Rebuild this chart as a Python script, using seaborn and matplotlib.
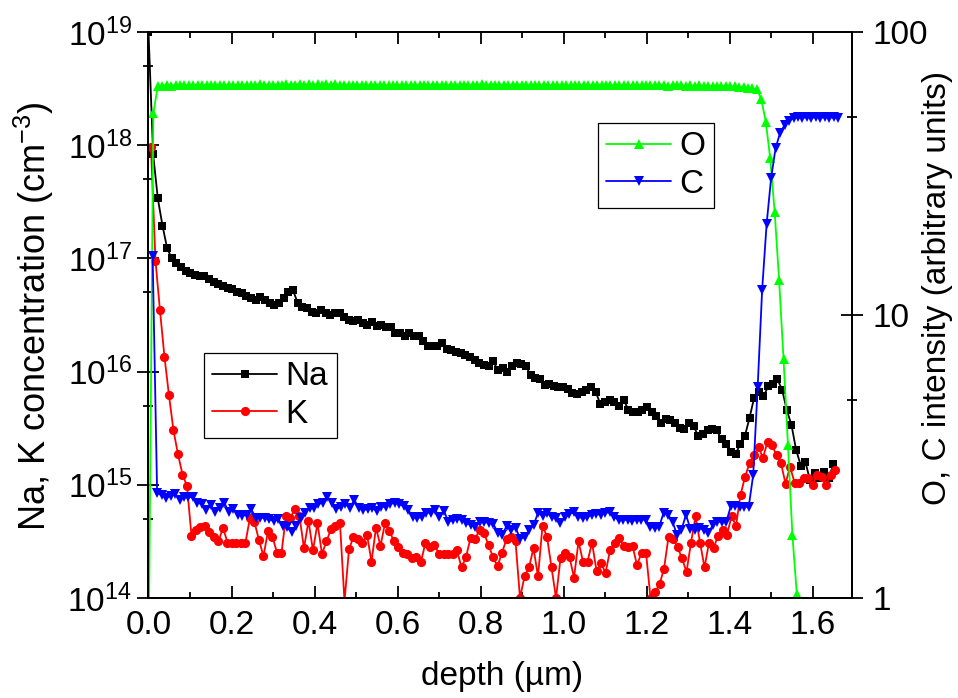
import numpy as np
import pandas as pd
import matplotlib
matplotlib.use("Agg")
import matplotlib.pyplot as plt
import seaborn as sns
from matplotlib.ticker import FixedLocator, FixedFormatter, NullFormatter, MultipleLocator

# ---------------- data ----------------
# Na concentration, log10(cm^-3)
na_log10 = [
    19.0, 17.92, 17.53, 17.29, 17.09, 17.0, 16.96, 16.92, 16.89, 16.87,
    16.85, 16.84, 16.84, 16.82, 16.79, 16.77, 16.76, 16.74, 16.73, 16.70,
    16.69, 16.67, 16.65, 16.63, 16.66, 16.63, 16.61, 16.59, 16.61, 16.65,
    16.70, 16.72, 16.61, 16.57, 16.56, 16.53, 16.52, 16.54, 16.52, 16.50,
    16.52, 16.52, 16.48, 16.46, 16.45, 16.46, 16.43, 16.41, 16.44, 16.40,
    16.41, 16.39, 16.39, 16.34, 16.34, 16.31, 16.34, 16.31, 16.31, 16.27,
    16.23, 16.23, 16.23, 16.25, 16.20, 16.19, 16.17, 16.16, 16.15, 16.13,
    16.10, 16.08, 16.06, 16.05, 16.09, 16.01, 16.03, 16.00, 16.05, 16.08,
    16.07, 16.05, 15.97, 15.94, 15.93, 15.88, 15.89, 15.87, 15.86, 15.86,
    15.85, 15.81, 15.80, 15.82, 15.84, 15.86, 15.82, 15.71, 15.73, 15.75,
    15.73, 15.70, 15.75, 15.66, 15.64, 15.64, 15.66, 15.69, 15.64, 15.61,
    15.55, 15.58, 15.57, 15.55, 15.50, 15.49, 15.55, 15.52, 15.43, 15.45,
    15.48, 15.49, 15.48, 15.40, 15.36, 15.29, 15.27, 15.36, 15.43, 15.59,
    15.77, 15.82, 15.78, 15.87, 15.89, 15.93, 15.84, 15.66, 15.53, 15.31,
    15.17, 15.20, 15.04, 15.10, 15.06, 15.11, 15.06, 15.18,
]
na_depth_range = (0.0, 1.650)

# K concentration, log10(cm^-3)
k_log10 = [
    17.98, 16.98, 16.54, 16.13, 15.79, 15.48, 15.27, 15.09, 14.99, 14.55,
    14.60, 14.63, 14.64, 14.58, 14.54, 14.50, 14.62, 14.49, 14.49, 14.49,
    14.49, 14.49, 14.71, 14.67, 14.51, 14.37, 14.59, 14.54, 14.40, 14.40,
    14.72, 14.71, 14.79, 14.72, 14.44, 14.68, 14.42, 14.66, 14.39, 14.50,
    14.61, 14.64, 14.66, 13.97, 14.43, 14.54, 14.52, 14.49, 14.56, 14.32,
    14.62, 14.46, 14.66, 14.59, 14.50, 14.45, 14.40, 14.39, 14.35, 14.36,
    14.32, 14.49, 14.45, 14.47, 14.39, 14.39, 14.39, 14.39, 14.42,
    14.27, 14.36, 14.53, 14.52, 14.60, 14.57, 14.47, 14.36, 14.28, 14.40,
    14.52, 14.54, 14.50, 14.00, 14.19, 14.27, 14.44, 14.19, 14.64, 14.54,
    14.27, 14.00, 14.35, 14.40, 14.36, 14.18, 14.50, 14.32, 14.32, 14.49,
    14.24, 14.31, 14.22, 14.42, 14.49, 14.53, 14.46, 14.45, 14.46, 14.29,
    14.40, 14.40, 14.00, 14.05, 14.12, 14.26, 14.54, 14.52, 14.45, 14.35,
    14.23, 14.49, 14.72, 14.49, 14.27, 14.49, 14.44, 14.55, 14.60, 14.56,
    14.72, 14.64, 14.91, 15.07, 15.19, 15.26, 15.33, 15.24, 15.38, 15.35,
    15.26, 15.19, 15.01, 15.16, 15.02, 15.02, 15.06, 15.06, 15.00, 15.09,
    15.07, 15.00, 15.09, 15.13,
]
k_depth_range = (0.006, 1.654)

# C intensity (arbitrary units, right axis)
c_intensity = [
    16.2,
    2.35, 2.31, 2.26, 2.29, 2.33, 2.22, 2.27, 2.27, 2.27, 2.17,
    2.15, 2.05, 2.13, 2.01, 2.08, 2.17, 2.01, 2.06, 1.97, 1.95,
    1.97, 2.06, 1.92, 1.92, 1.92, 1.90, 1.87, 1.90, 1.80, 1.78,
    1.71, 1.80, 1.92, 2.00, 2.08, 2.08, 2.15, 2.17, 2.27, 2.17,
    2.06, 2.10, 2.15, 2.08, 2.22, 2.08, 2.05, 2.06, 2.08, 2.03,
    2.10, 2.10, 2.15, 2.17, 2.15, 2.11, 2.05, 1.93, 1.92, 1.93,
    2.00, 2.00, 2.05, 1.93, 2.03, 1.86, 1.89, 1.90,
    1.89, 1.84, 1.81, 1.78, 1.86, 1.86, 1.84, 1.83, 1.70, 1.67,
    1.80, 1.74, 1.77, 1.62, 1.64, 1.74, 1.81, 2.00, 1.95, 2.00,
    1.93, 1.92, 1.84, 1.93, 1.98, 2.01, 1.93, 1.92, 1.93, 1.97,
    1.98, 1.97, 2.00, 2.01, 1.93, 1.89, 1.89, 1.89, 1.87, 1.89,
    1.89, 1.89, 1.78, 1.77, 1.78, 2.00, 1.97, 1.86, 1.67, 1.74,
    1.97, 1.75, 1.74, 1.77, 1.74, 1.70, 1.81, 1.86, 1.86, 1.86,
    2.11, 2.11, 2.10, 2.10, 2.10, 2.72, 5.57, 12.3, 21.0, 30.5,
    38.9, 44.0, 46.9, 48.5, 49.7,
    49.9, 49.8, 49.9, 49.8, 49.9, 49.8, 49.9, 49.8, 49.9, 49.8,
]
c_depth_range = (0.010, 1.662)

# O intensity (arbitrary units, right axis)
o_intensity = [
    0.8, 51.6,
    64.2, 64.6, 64.8, 64.6, 64.9, 64.7, 64.9, 65.0, 64.8, 65.0,
    64.9, 65.1, 64.9, 65.0, 65.2, 65.0, 65.1, 64.9, 65.1, 65.0,
    65.2, 65.0, 65.1, 65.3, 65.1, 65.2, 65.0, 65.2, 65.1, 65.3,
    65.1, 65.2, 65.4, 65.2, 65.3, 65.1, 65.3, 65.2, 65.4, 65.2,
    65.3, 65.1, 65.2, 65.0, 65.2, 65.1, 64.9, 65.1, 65.0, 65.2,
    64.9, 65.0, 64.8, 65.0, 64.9, 65.1, 64.9, 65.0, 65.1, 64.9,
    65.1, 65.0, 65.2, 65.0, 65.1, 64.9, 65.1, 65.0, 65.2, 65.1,
    65.0, 65.2, 65.1, 65.3, 65.1, 65.2, 65.0, 65.2, 65.1, 65.0,
    65.2, 65.1, 65.0, 65.2, 65.0, 65.1, 64.9, 65.1, 65.0, 64.9,
    65.1, 64.9, 65.0, 64.8, 65.0, 64.9, 65.1, 64.9, 65.0, 64.8,
    65.0, 64.9, 64.8, 65.0, 64.8, 64.9, 64.7, 64.9, 64.8, 64.9,
    64.7, 64.8, 64.9, 64.7, 64.8, 64.6, 64.8, 64.7, 64.8, 64.6,
    64.7, 64.6, 64.7, 64.5, 64.6, 64.5, 64.6, 64.4, 64.5, 64.3,
    64.2, 64.0, 63.8, 63.5, 63.2, 62.7,
    57.8, 48.2, 35.8, 23.2, 13.3, 7.0, 3.47, 1.67, 1.03,
]
o_depth_range = (0.001, 1.562)

x_ticks = [0.0, 0.2, 0.4, 0.6, 0.8, 1.0, 1.2, 1.4, 1.6]
x_ticklabels = ["0.0", "0.2", "0.4", "0.6", "0.8", "1.0", "1.2", "1.4", "1.6"]
left_ticks = [1e14, 1e15, 1e16, 1e17, 1e18, 1e19]
left_ticklabels = [r"$\mathregular{10^{14}}$", r"$\mathregular{10^{15}}$", r"$\mathregular{10^{16}}$",
                   r"$\mathregular{10^{17}}$", r"$\mathregular{10^{18}}$", r"$\mathregular{10^{19}}$"]
left_minor = [5e14, 5e15, 5e16, 5e17, 5e18]
right_ticks = [1, 10, 100]
right_ticklabels = ["1", "10", "100"]
right_minor = [5, 50]

# ---------------- frames ----------------
def frame(depth_range, values):
    return pd.DataFrame({"depth": np.linspace(depth_range[0], depth_range[1], len(values)),
                         "value": values})

df_na = frame(na_depth_range, 10 ** np.array(na_log10))
df_k = frame(k_depth_range, 10 ** np.array(k_log10))
df_c = frame(c_depth_range, c_intensity)
df_o = frame(o_depth_range, o_intensity)

# ---------------- style ----------------
sns.set_theme(style="white")
plt.rcParams["font.family"] = ["Liberation Sans", "DejaVu Sans"]
plt.rcParams["mathtext.fontset"] = "custom"
plt.rcParams["mathtext.rm"] = "Liberation Sans"
plt.rcParams["mathtext.it"] = "Liberation Sans:italic"
plt.rcParams["mathtext.bf"] = "Liberation Sans:bold"
plt.rcParams["mathtext.default"] = "regular"
for key in ("text.color", "axes.labelcolor", "xtick.color", "ytick.color", "axes.edgecolor"):
    plt.rcParams[key] = "black"

FS = 24
fig = plt.figure(figsize=(9.58, 6.98), dpi=100)
ax = fig.add_axes([0.1550, 0.1433, 0.7344, 0.8109])
ax.set_yscale("log")
ax2 = ax.twinx()
ax2.set_yscale("log")

lw = 1.3
sns.lineplot(data=df_na, x="depth", y="value", ax=ax, color="black", marker="s",
             markersize=5.6, markeredgewidth=0, linewidth=lw, label="Na",
             estimator=None, sort=False)
sns.lineplot(data=df_k, x="depth", y="value", ax=ax, color="#ff0000", marker="o",
             markersize=6.6, markeredgewidth=0, linewidth=lw, label="K",
             estimator=None, sort=False)
sns.lineplot(data=df_o, x="depth", y="value", ax=ax2, color="#00ff00", marker="^",
             markersize=7.0, markeredgewidth=0, linewidth=lw, label="O",
             estimator=None, sort=False)
sns.lineplot(data=df_c, x="depth", y="value", ax=ax2, color="#0000ff", marker="v",
             markersize=7.0, markeredgewidth=0, linewidth=lw, label="C",
             estimator=None, sort=False)

ax.set_xlim(0.0, 1.695)
ax.set_ylim(1e14, 1e19)
ax2.set_ylim(1, 100)

# ticks
ax.xaxis.set_major_locator(FixedLocator(x_ticks))
ax.xaxis.set_major_formatter(FixedFormatter(x_ticklabels))
ax.xaxis.set_minor_locator(MultipleLocator(0.1))
ax.yaxis.set_major_locator(FixedLocator(left_ticks))
ax.yaxis.set_major_formatter(FixedFormatter(left_ticklabels))
ax.yaxis.set_minor_locator(FixedLocator(left_minor))
ax.yaxis.set_minor_formatter(NullFormatter())
ax2.yaxis.set_major_locator(FixedLocator(right_ticks))
ax2.yaxis.set_major_formatter(FixedFormatter(right_ticklabels))
ax2.yaxis.set_minor_locator(FixedLocator(right_minor))
ax2.yaxis.set_minor_formatter(NullFormatter())

tw = 1.3
ax.tick_params(axis="x", which="major", direction="in", length=8.4, width=tw,
               top=True, bottom=True, labelsize=FS, pad=9, colors="black")
ax.tick_params(axis="x", which="minor", direction="in", length=4.0, width=tw,
               top=True, bottom=True)
ax.tick_params(axis="y", which="major", direction="inout", length=15.6, width=tw,
               left=True, right=False, labelsize=FS, pad=4)
ax.tick_params(axis="y", which="minor", direction="inout", length=7.5, width=tw,
               left=True, right=False)
ax2.tick_params(axis="y", which="major", direction="inout", length=15.6, width=tw,
                right=True, left=False, labelsize=FS, pad=7)
ax2.tick_params(axis="y", which="minor", direction="inout", length=7.5, width=tw,
                right=True, left=False)

for a in (ax, ax2):
    for s in a.spines.values():
        s.set_linewidth(1.4)
        s.set_color("black")

# labels
ax.set_xlabel("depth (µm)", fontsize=FS)
ax.xaxis.set_label_coords(0.5025, -0.139)
ax.xaxis.label.set_verticalalignment("center")
ax.set_ylabel(r"Na, K concentration (cm$^{-3}$)", fontsize=26)
ax.yaxis.set_label_coords(-0.163, 0.498)
ax.yaxis.label.set_verticalalignment("center")
ax2.set_ylabel("O, C intensity (arbitrary units)", fontsize=FS)
ax2.yaxis.set_label_coords(1.1208, 0.548)
ax2.yaxis.label.set_verticalalignment("center")

# legends
leg_kw = dict(fontsize=FS, frameon=True, fancybox=False, shadow=False, framealpha=1,
              edgecolor="black", facecolor="white", borderpad=0.25, labelspacing=0.2,
              handlelength=1.95, handletextpad=0.25, borderaxespad=0.0, numpoints=1,
              loc="upper left", bbox_transform=fig.transFigure)
h1, l1 = ax.get_legend_handles_labels()
leg1 = ax.legend(h1, l1, bbox_to_anchor=(204 / 958, 1 - 353 / 698), **leg_kw)
leg1.get_frame().set_linewidth(0.9)
h2, l2 = ax2.get_legend_handles_labels()
leg2 = ax2.legend(h2, l2, bbox_to_anchor=(598 / 958, 1 - 123 / 698), **leg_kw)
leg2.get_frame().set_linewidth(0.9)

fig.savefig("out.png", dpi=100)
